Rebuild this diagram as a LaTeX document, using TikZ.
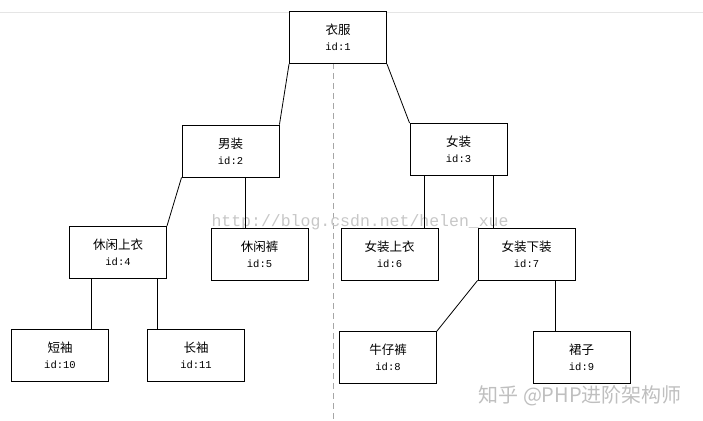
\documentclass[tikz,border=0pt]{standalone}
\usepackage{fontspec}
\newfontfamily\cjk{Noto Sans CJK SC}
\setmonofont{Liberation Mono}
\begin{document}
\begin{tikzpicture}[x=1pt,y=-1pt,
  box/.style={draw=black,line width=0.9pt,fill=white,minimum width=97pt,minimum height=52pt,inner sep=0pt,align=center,font=\fontsize{12.5}{17}\selectfont},
  link/.style={draw=black,line width=0.8pt}]
\useasboundingbox[fill=white] (0,0) rectangle (703,420);
\draw[black!10,line width=0.6pt] (0,12) -- (703,12);
\draw[black!35,dashed,dash pattern=on 6pt off 4pt,line width=0.6pt] (333,63) -- (333,420);
\node[text=black!22,font=\ttfamily\fontsize{16.5}{18}\selectfont,anchor=base west] (wm1) at (208,226) {http://blog.csdn.net/helen\_xue};
\newcommand{\lbl}[2]{{\cjk #1}\\[-1pt]{\ttfamily\fontsize{10.5}{17}\selectfont #2}}
\node[box] (b1) at (338,37.5) {\lbl{衣服}{id:1}};
\node[box] (b2) at (230.5,151) {\lbl{男装}{id:2}};
\node[box] (b3) at (458.5,149.5) {\lbl{女装}{id:3}};
\node[box] (b4) at (118,252.5) {\lbl{休闲上衣}{id:4}};
\node[box] (b5) at (259.5,254) {\lbl{休闲裤}{id:5}};
\node[box] (b6) at (389.5,254) {\lbl{女装上衣}{id:6}};
\node[box] (b7) at (526.5,254) {\lbl{女装下装}{id:7}};
\node[box] (b10) at (60,355) {\lbl{短袖}{id:10}};
\node[box] (b11) at (196,355) {\lbl{长袖}{id:11}};
\node[box] (b8) at (388,357.5) {\lbl{牛仔裤}{id:8}};
\node[box] (b9) at (581.5,357.5) {\lbl{裙子}{id:9}};
\draw[link] (b1.south west) -- (b2.north east);
\draw[link] (b1.south east) -- (b3.north west);
\draw[link] (b2.south west) -- (b4.north east);
\draw[link] ([xshift=14.5pt]b2.south) -- ([xshift=14.5pt]b2.south |- b5.north);
\draw[link] ([xshift=-34.5pt]b3.south) -- ([xshift=-34.5pt]b3.south |- b6.north);
\draw[link] ([xshift=34.5pt]b3.south) -- ([xshift=34.5pt]b3.south |- b7.north);
\draw[link] ([xshift=-27pt]b4.south) -- ([xshift=-27pt]b4.south |- b10.north);
\draw[link] ([xshift=39pt]b4.south) -- ([xshift=39pt]b4.south |- b11.north);
\draw[link] (b7.south west) -- (b8.north east);
\draw[link] ([xshift=28.5pt]b7.south) -- ([xshift=28.5pt]b7.south |- b9.north);
\node[text=black!25,font=\cjk\fontsize{20}{21}\selectfont,anchor=base west] (wm2) at (475,402) {知乎 @PHP进阶架构师};
\end{tikzpicture}
\end{document}
